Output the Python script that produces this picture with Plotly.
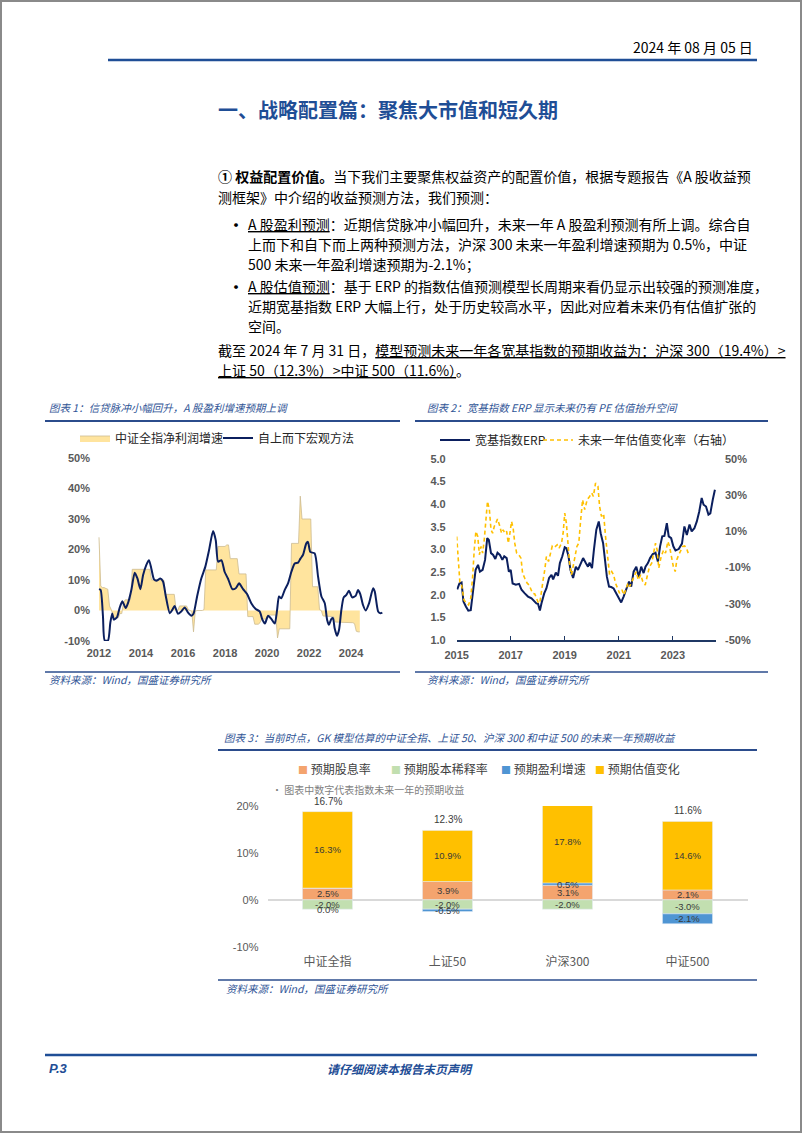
import plotly.graph_objects as go

W, H = 802, 1133
CJK = "Noto Sans CJK SC"
SANS = "Liberation Sans, Arial, sans-serif"
BLUE = "#2B4C8C"
NAVY = "#0B1F5E"

# ---------------- chart 1 data ----------------
# 中证全指净利润增速 (%), monthly from 2012-01
profit_start_year = 2012
csi_profit_growth = [
    24, 8, 7.5, 7.5, 7.2, 7, 1.5, 0.3, -1.5, -2.4, -2.4, -2.4,          # 2012
    -1, -1, 2.5, 3.5, 3.5, 3.5, 3.5, 13.5, 13.5, 13.5, 13.5, 13.5,      # 2013
    13.5, 13.5, 13.5, 13.5, 13.5, 13.5, 10, 10, 10, 10, 10, 10,         # 2014
    10, 10, 5.3, 5.3, 5.3, 5.3, 5.3, 5.3, 0.5, 0, 1.5, 1.5,             # 2015
    1.5, 1.5, 1.5, 0.3, 0, -0.3, -7, -0.3, 0, 0, 0, 0,                  # 2016
    0.3, 13.3, 13.3, 13.3, 13.3, 13.3, 13.3, 13.3, 21, 21, 21, 21,      # 2017
    21, 21.5, 21.5, 17, 17, 17, 17, 17, 12, 12, 12, 12,                 # 2018
    12, -2, -2, -2, -2, -4.5, -4.5, -4.5, -4, -2.8, -2.8, -2.8,         # 2019
    -2.8, -1.5, -1.5, -1.5, -1.5, -1.5, -9, -6, -6, -6, -6, -6,         # 2020
    -6, -6, 22, 22, 22, 22, 22, 37.5, 30, 30, 30, 30,                   # 2021
    30, 30, 7.8, 7.8, 7.8, 7.8, 0.3, 0, -1.8, -1.8, -1.8, -1.8,         # 2022
    -2, -2, -2, -3.8, -3.8, -3.8, -3.8, -3.8, -3.8, -3.8, -3.8, -3.8,   # 2023
    -4, -4, -4.3, -6.8, -7, -7,                                         # 2024
]
# 自上而下宏观方法 (%)
macro_t = [2012.0, 2012.08, 2012.19, 2012.27, 2012.43, 2012.54, 2012.63, 2012.71, 2012.86, 2012.98,
           2013.11, 2013.27, 2013.38, 2013.54, 2013.7, 2013.83, 2013.97, 2014.1, 2014.25, 2014.38,
           2014.49, 2014.62, 2014.76, 2014.92, 2015.05, 2015.17, 2015.37, 2015.49, 2015.6, 2015.76,
           2015.92, 2016.08, 2016.24, 2016.4, 2016.5, 2016.67, 2016.87, 2017.06, 2017.24, 2017.43,
           2017.56, 2017.67, 2017.83, 2017.98, 2018.14, 2018.35, 2018.51, 2018.67, 2018.86, 2019.05,
           2019.25, 2019.46, 2019.65, 2019.78, 2019.9, 2020.05, 2020.21, 2020.37, 2020.48, 2020.57,
           2020.68, 2020.84, 2021.0, 2021.16, 2021.32, 2021.48, 2021.59, 2021.71, 2021.87, 2021.95,
           2022.06, 2022.27, 2022.43, 2022.59, 2022.75, 2022.86, 2022.95, 2023.06, 2023.14, 2023.22,
           2023.33, 2023.43, 2023.54, 2023.65, 2023.78, 2023.9, 2024.06, 2024.22, 2024.33, 2024.44,
           2024.57, 2024.7, 2024.86, 2025.05, 2025.13, 2025.29, 2025.4, 2025.49]
macro_v = [7.0, 6.7, -2, -9.8, -9.8, -4, -1, -3, -2.2, 0.8,
           3, 0.8, 2.4, 6.7, 12.4, 10.5, 7, 11.6, 14.9, 16.5,
           13.8, 10.2, 9.8, 10.5, 9.5, 5.1, -0.9, 0.2, 1.5, -1.1,
           -0.3, 1.0, -0.7, -1.7, -1.1, 4.6, 10.5, 14.3, 19.8, 26.1,
           23, 16, 16.5, 12.7, 10.5, 7, 7.3, 8.9, 7, 5.4,
           2.4, 0.5, -0.3, -3, -4.3, -1.7, -2.8, -4.3, 0.2, 4.6,
           4, 6.7, 8.9, 12.7, 15.4, 15.7, 17, 18.2, 22, 22.5,
           19.2, 18.7, 11.1, 4.6, 2.4, -3, -4.7, -2.8, -2.5, -5.8,
           -8.3, -6.3, 0.2, 4.3, 5.1, 6.5, 4.3, 4.8, 6.7, 5.4,
           1.8, 0, 2.4, 7.3, 6.2, -0.3, -0.9, -0.7]
c1_years = [2012, 2014, 2016, 2018, 2020, 2022, 2024]
c1_yticks = [-10, 0, 10, 20, 30, 40, 50]

# ---------------- chart 2 data ----------------
erp_t = [2015.02, 2015.1, 2015.18, 2015.25, 2015.34, 2015.43, 2015.52, 2015.62, 2015.7, 2015.79,
         2015.86, 2015.96, 2016.05, 2016.13, 2016.19, 2016.27, 2016.35, 2016.43, 2016.51, 2016.6,
         2016.69, 2016.76, 2016.85, 2016.93, 2017.0, 2017.07, 2017.19, 2017.31, 2017.4, 2017.52,
         2017.64, 2017.77, 2017.85, 2017.95, 2018.01, 2018.08, 2018.14, 2018.24, 2018.32, 2018.42,
         2018.51, 2018.57, 2018.67, 2018.75, 2018.82, 2018.91, 2019.0, 2019.06, 2019.14, 2019.21,
         2019.31, 2019.41, 2019.49, 2019.58, 2019.68, 2019.78, 2019.86, 2019.92, 2020.01, 2020.08,
         2020.17, 2020.26, 2020.33, 2020.42, 2020.49, 2020.56, 2020.64, 2020.72, 2020.81, 2020.91,
         2021.0, 2021.09, 2021.18, 2021.28, 2021.38, 2021.46, 2021.55, 2021.65, 2021.74, 2021.83,
         2021.92, 2021.99, 2022.08, 2022.16, 2022.26, 2022.36, 2022.45, 2022.53, 2022.61, 2022.69,
         2022.78, 2022.85, 2022.94, 2023.02, 2023.1, 2023.22, 2023.34, 2023.43, 2023.52, 2023.62,
         2023.7, 2023.8, 2023.89, 2023.98, 2024.07, 2024.14, 2024.23, 2024.32, 2024.39, 2024.48, 2024.56]
erp_v = [2.12, 2.25, 2.27, 1.85, 1.74, 1.65, 1.66, 2.11, 2.55, 2.66,
         2.51, 2.55, 2.77, 3.25, 3.21, 2.92, 2.88, 2.79, 2.93, 2.88,
         2.77, 2.85, 2.81, 2.51, 2.55, 2.25, 2.22, 2.24, 2.11, 2.03,
         1.96, 1.92, 1.86, 1.81, 1.80, 1.65, 1.81, 2.03, 2.14, 2.37,
         2.44, 2.34, 2.49, 2.42, 2.70, 2.85, 3.05, 3.03, 2.85, 2.55,
         2.37, 2.62, 2.55, 2.66, 2.81, 2.70, 2.62, 2.71, 2.59, 2.99,
         3.44, 3.62, 3.36, 3.14, 2.77, 2.40, 2.18, 2.17, 2.14, 2.02,
         1.94, 1.83, 1.96, 2.14, 2.29, 2.18, 2.51, 2.62, 2.40, 2.62,
         2.48, 2.62, 2.70, 2.81, 2.90, 2.93, 2.73, 3.07, 3.29, 3.30,
         3.58, 3.29, 3.25, 3.07, 2.98, 3.01, 3.13, 3.51, 3.32, 3.55,
         3.40, 3.47, 3.62, 3.84, 4.14, 3.99, 3.95, 3.77, 3.80, 4.10, 4.32]
pe_t = [2015.0, 2015.06, 2015.12, 2015.18, 2015.27, 2015.37, 2015.44, 2015.52, 2015.59, 2015.65,
        2015.71, 2015.78, 2015.84, 2015.9, 2015.96, 2016.02, 2016.08, 2016.14, 2016.21, 2016.27,
        2016.33, 2016.39, 2016.45, 2016.51, 2016.58, 2016.66, 2016.72, 2016.78, 2016.85, 2016.91,
        2016.97, 2017.03, 2017.09, 2017.15, 2017.22, 2017.3, 2017.38, 2017.44, 2017.52, 2017.61,
        2017.68, 2017.74, 2017.81, 2017.89, 2017.95, 2018.03, 2018.08, 2018.14, 2018.2, 2018.26,
        2018.32, 2018.4, 2018.47, 2018.54, 2018.63, 2018.72, 2018.79, 2018.88, 2018.94, 2019.0,
        2019.06, 2019.12, 2019.18, 2019.25, 2019.31, 2019.38, 2019.45, 2019.52, 2019.58, 2019.66,
        2019.74, 2019.83, 2019.92, 2020.0, 2020.06, 2020.14, 2020.23, 2020.29, 2020.36, 2020.44,
        2020.51, 2020.6, 2020.66, 2020.74, 2020.81, 2020.88, 2020.97, 2021.03, 2021.12, 2021.19,
        2021.28, 2021.34, 2021.4, 2021.49, 2021.56, 2021.65, 2021.72, 2021.81, 2021.89, 2021.98,
        2022.05, 2022.14, 2022.22, 2022.3, 2022.36, 2022.42, 2022.48, 2022.57, 2022.66, 2022.73,
        2022.82, 2022.88, 2022.95, 2023.02, 2023.09, 2023.15, 2023.22, 2023.31, 2023.37, 2023.44,
        2023.52, 2023.57]
pe_v = [7.2, -9.4, -18.6, -19.6, -27.9, -29.7, -30.6, -26.9, -15, 0,
        10, 7.2, -2.9, 1.7, -2, 5.4, 18.3, 26.6, 22, 10.9,
        9, 12.7, 14.6, 16.8, 13.7, 9, 10.9, 9, 10, 3.5,
        9, 15.5, 11.8, 3.5, -2, -2.9, -4.8, -13.1, -15.9, -18.6,
        -19.6, -22.3, -24.2, -24.5, -26.9, -29.7, -29.3, -24.2, -16.8, -11.3,
        -3.9, -6.6, -2, 2, 1.3, 2.6, 0.7, 3.5, 9, 20.1,
        14.6, 5.4, -7.6, -14, -8.5, -3.9, 1.7, 3.5, 14.6, 27.5,
        22, 27.5, 29.3, 31.2, 29.3, 36.7, 34.9, 23.8, 18.3, 19.7,
        7.2, -7.6, -14, -12.2, -14, -18.6, -22, -24.2, -22.3, -25.1,
        -21.4, -18.6, -20.5, -17.7, -14.9, -12.2, -16.8, -14, -17.7, -19.6,
        -14.9, -9.4, -7.6, -2, 3.5, -0.2, -10.3, -3.9, -0.2, -2,
        4.4, 1.7, -3.9, -9.4, -12.2, -5.7, -2.9, -0.2, 1.7, 2,
        0.2, -2]
c2_years = [2015, 2017, 2019, 2021, 2023]
c2_left_ticks = [1.0, 1.5, 2.0, 2.5, 3.0, 3.5, 4.0, 4.5, 5.0]
c2_right_ticks = [-50, -30, -10, 10, 30, 50]

# ---------------- chart 3 data ----------------
categories = ["中证全指", "上证50", "沪深300", "中证500"]
dividend = [2.5, 3.9, 3.1, 2.1]
dilution = [-2.0, -2.0, -2.0, -3.0]
earnings = [0.0, -0.5, 0.5, -2.1]
valuation = [16.3, 10.9, 17.8, 14.6]
total_return = [16.7, 12.3, 19.4, 11.6]
series3 = [("预期股息率", dividend, "#F4A46E"),
           ("预期股本稀释率", dilution, "#C2DFB0"),
           ("预期盈利增速", earnings, "#4F95D3"),
           ("预期估值变化", valuation, "#FFC000")]
c3_yticks = [-10, 0, 10, 20]


def fx(x):
    return x / W


def fy(y):
    return 1 - y / H


def pct_bold(vals):
    return [f"<b>{v}%</b>" for v in vals]


fig = go.Figure()

# chart 1
profit_t = [profit_start_year + i / 12 for i in range(len(csi_profit_growth))]
fig.add_trace(go.Scatter(x=profit_t, y=csi_profit_growth, mode="lines", fill="tozeroy",
                         fillcolor="#FFE49E", line=dict(color="#CDBB90", width=0.8),
                         name="中证全指净利润增速", xaxis="x", yaxis="y", legend="legend"))
fig.add_trace(go.Scatter(x=macro_t, y=macro_v, mode="lines",
                         line=dict(color=NAVY, width=2, shape="spline", smoothing=0.6),
                         name="自上而下宏观方法", xaxis="x", yaxis="y", legend="legend2"))
# chart 2
fig.add_trace(go.Scatter(x=erp_t, y=erp_v, mode="lines", line=dict(color=NAVY, width=2),
                         name="宽基指数ERP", xaxis="x2", yaxis="y2", legend="legend3"))
fig.add_trace(go.Scatter(x=pe_t, y=pe_v, mode="lines",
                         line=dict(color="#FFC000", width=1.6, dash="4px,3px"),
                         name="未来一年估值变化率（右轴）", xaxis="x2", yaxis="y3", legend="legend4"))
# chart 3
for name, vals, color in series3:
    fig.add_trace(go.Bar(x=categories, y=vals, name=name, marker_color=color,
                         xaxis="x3", yaxis="y4", showlegend=False))

ann = []
shapes = []


def txt(x, y, s, size=14, color="#000000", xanchor="left", family=CJK, **kw):
    ann.append(dict(x=fx(x), y=fy(y), xref="paper", yref="paper", text=s, showarrow=False,
                    xanchor=xanchor, yanchor="middle",
                    font=dict(size=size, color=color, family=family), **kw))


def hline(x0, x1, y, color=BLUE, width=2):
    shapes.append(dict(type="line", xref="paper", yref="paper", x0=fx(x0), x1=fx(x1),
                       y0=fy(y), y1=fy(y), line=dict(color=color, width=width)))


# page frame
shapes.append(dict(type="rect", xref="paper", yref="paper", x0=fx(1), x1=fx(801), y0=fy(1132),
                   y1=fy(1), line=dict(color="#8A8A8A", width=2)))

# header
txt(755, 47, "2024 年 08 月 05 日", size=14, xanchor="right")
hline(108, 757, 60, "#1F4E96", 2.5)
txt(216, 110, "<b>一、战略配置篇：聚焦大市值和短久期</b>", size=20, color="#1F4E96")

# body text
body_size = 14
txt(216, 176, "<b>① 权益配置价值。</b>当下我们主要聚焦权益资产的配置价值，根据专题报告《A 股收益预", body_size)
txt(216, 197, "测框架》中介绍的收益预测方法，我们预测：", body_size)
txt(225, 224, "•", 18)
txt(246, 224, "<u>A 股盈利预测</u>：近期信贷脉冲小幅回升，未来一年 A 股盈利预测有所上调。综合自", body_size)
txt(246, 244, "上而下和自下而上两种预测方法，沪深 300 未来一年盈利增速预期为 0.5%，中证", body_size)
txt(246, 264, "500 未来一年盈利增速预期为-2.1%；", body_size)
txt(225, 286, "•", 18)
txt(246, 286, "<u>A 股估值预测</u>：基于 ERP 的指数估值预测模型长周期来看仍显示出较强的预测准度，", body_size)
txt(246, 306, "近期宽基指数 ERP 大幅上行，处于历史较高水平，因此对应着未来仍有估值扩张的", body_size)
txt(246, 326, "空间。", body_size)
txt(216, 350, "截至 2024 年 7 月 31 日，<u>模型预测未来一年各宽基指数的预期收益为：沪深 300（19.4%）&gt;</u>", body_size)
txt(216, 370, "<u>上证 50（12.3%）&gt;中证 500（11.6%）</u>。", body_size)

# chart captions / sources
cap = dict(size=10.5, color="#2F5496")
txt(47, 407, "<i>图表 1：信贷脉冲小幅回升，A 股盈利增速预期上调</i>", **cap)
hline(45, 400, 421)
txt(425, 407, "<i>图表 2：宽基指数 ERP 显示未来仍有 PE 估值抬升空间</i>", **cap)
hline(415, 768, 421)
hline(45, 400, 672, width=1.5)
txt(47, 679, "<i>资料来源：Wind，国盛证券研究所</i>", **cap)
hline(415, 768, 672, width=1.5)
txt(425, 679, "<i>资料来源：Wind，国盛证券研究所</i>", **cap)

txt(222, 737, "<i>图表 3：当前时点，GK 模型估算的中证全指、上证 50、沪深 300 和中证 500 的未来一年预期收益</i>", **cap)
hline(218, 757, 750)
hline(218, 757, 980, width=1.5)
txt(224, 988, "<i>资料来源：Wind，国盛证券研究所</i>", **cap)

# chart 3 legend & note
leg3_x = [296, 389, 499, 593]
for (name, vals, color), lx in zip(series3, leg3_x):
    txt(lx, 768, f"<span style='color:{color};font-size:10px'>■</span> {name}", size=12, color="#404040")
txt(270, 789, "· 图表中数字代表指数未来一年的预期收益", size=10, color="#7F7F7F")

# chart 3 segment labels
for i, cat in enumerate(categories):
    pos, neg = 0.0, 0.0
    for name, vals, color in series3:
        v = vals[i]
        if v > 0:
            mid = pos + v / 2
            pos += v
        else:
            mid = neg + v / 2
            neg += v
        ann.append(dict(x=cat, y=mid, xref="x3", yref="y4", text=f"{v:.1f}%", showarrow=False,
                        font=dict(size=9.5, color="#3A3A3A", family=SANS)))
    ann.append(dict(x=cat, y=pos, xref="x3", yref="y4", text=f"{total_return[i]:.1f}%",
                    showarrow=False, yanchor="bottom", yshift=3,
                    font=dict(size=10, color="#3A3A3A", family=SANS)))

# footer
hline(45, 757, 1055, "#1F4E96", 2.5)
txt(47, 1068, "<b><i>P.3</i></b>", size=13, color="#1F4E96", family=SANS)
txt(400, 1068, "<b><i>请仔细阅读本报告末页声明</i></b>", size=12, color="#1F4E96", xanchor="center")

tick_font = dict(size=11, color="#595959", family=SANS)
leg_common = dict(orientation="h", xanchor="left", yanchor="middle", bgcolor="rgba(0,0,0,0)",
                  font=dict(size=12, color="#262626", family=CJK), itemwidth=30)

fig.update_layout(
    width=W, height=H, margin=dict(l=0, r=0, t=0, b=0, autoexpand=False),
    paper_bgcolor="white", plot_bgcolor="rgba(0,0,0,0)",
    barmode="relative", bargap=0.583,
    annotations=ann, shapes=shapes,
    legend=dict(x=fx(75), y=fy(438), **leg_common),
    legend2=dict(x=fx(218), y=fy(438), **leg_common),
    legend3=dict(x=fx(435), y=fy(440), **leg_common),
    legend4=dict(x=fx(538), y=fy(440), **leg_common),
    xaxis=dict(domain=[fx(95), fx(388)], range=[2011.81, 2025.76], tickvals=c1_years,
               ticktext=[f"<b>{y}</b>" for y in c1_years],
               showgrid=False, zeroline=False, showline=False, tickfont=tick_font,
               anchor="y", ticklabelstandoff=4),
    yaxis=dict(domain=[fy(641), fy(458)], range=[-10, 50], tickvals=c1_yticks,
               ticktext=pct_bold(c1_yticks),
               showgrid=False, zeroline=False, showline=False, tickfont=tick_font,
               anchor="x", ticklabelstandoff=4),
    xaxis2=dict(domain=[fx(456.7), fx(716)], range=[2015, 2024.6], tickvals=c2_years,
                ticktext=[f"<b>{y}</b>" for y in c2_years],
                showgrid=False, zeroline=False, showline=True, linecolor="#1F3864", linewidth=1.5,
                ticks="inside", ticklen=4, tickcolor="#1F3864", tickfont=tick_font,
                anchor="y2", ticklabelstandoff=4),
    yaxis2=dict(domain=[fy(640), fy(459)], range=[1, 5], tickvals=c2_left_ticks,
                ticktext=[f"<b>{v:.1f}</b>" for v in c2_left_ticks],
                showgrid=False, zeroline=False, showline=False, tickfont=tick_font,
                anchor="x2", ticklabelstandoff=10),
    yaxis3=dict(overlaying="y2", side="right", range=[-50, 50], tickvals=c2_right_ticks,
                ticktext=pct_bold(c2_right_ticks), showgrid=False, zeroline=False, showline=False,
                tickfont=tick_font, anchor="x2", ticklabelstandoff=8),
    xaxis3=dict(domain=[fx(267.5), fx(747.5)], type="category", showgrid=False, zeroline=False,
                showline=False, tickfont=dict(size=12, color="#595959", family=CJK),
                anchor="y4", ticklabelstandoff=6),
    yaxis4=dict(domain=[fy(946.7), fy(806)], range=[-10, 20], tickvals=c3_yticks,
                ticktext=[f"{v}%" for v in c3_yticks],
                showgrid=False, zeroline=True, zerolinecolor="#D9D9D9", zerolinewidth=1.5,
                showline=False, tickfont=dict(size=11, color="#595959", family=SANS),
                anchor="x3", ticklabelstandoff=8),
)

fig.write_html("out.html")
